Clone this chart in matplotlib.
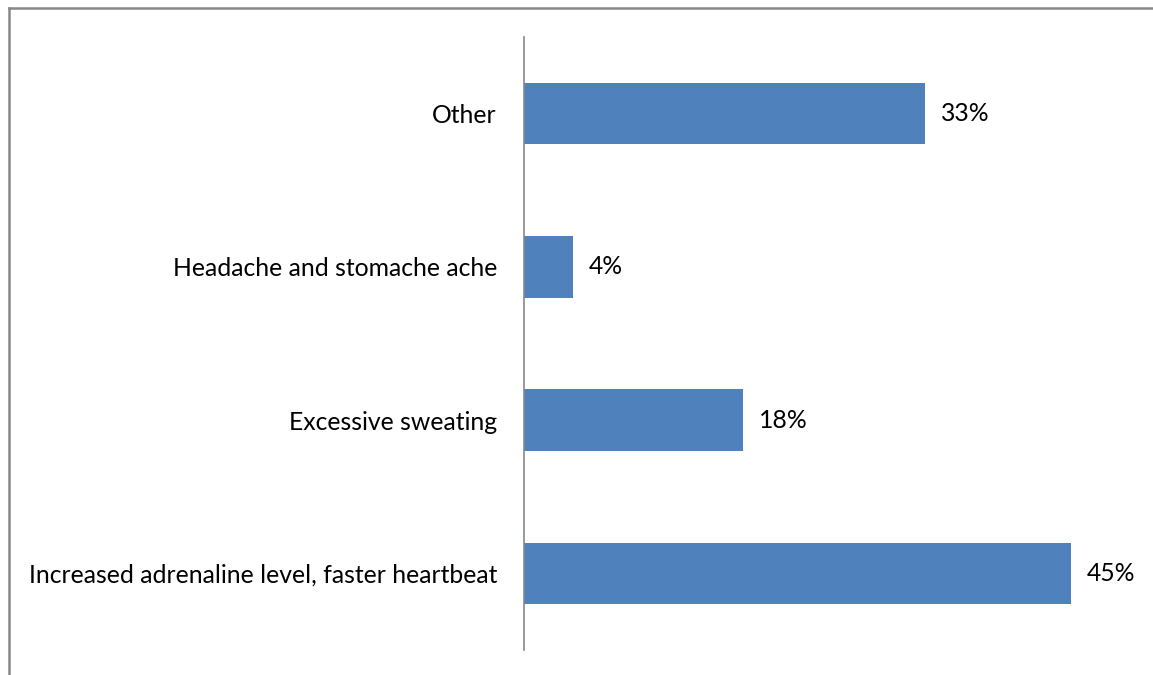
import matplotlib
matplotlib.use("agg")
import matplotlib.pyplot as plt
from matplotlib.lines import Line2D

categories = ["Increased adrenaline level, faster heartbeat", "Excessive sweating",
              "Headache and stomache ache", "Other"]
values = [45, 18, 4, 33]
value_labels = ["45%", "18%", "4%", "33%"]

BAR = "#4f81bd"
W, H = 1153, 675
FS = 17.8
plt.rcParams["font.family"] = ["Lato", "DejaVu Sans"]

fig = plt.figure(figsize=(W / 100, H / 100), dpi=100)
ax = fig.add_axes([524 / W, 25 / H, 608 / W, 613 / H])

y = range(len(categories))
ax.barh(list(y), values, height=0.4, color=BAR)
for i, (v, lab) in enumerate(zip(values, value_labels)):
    ax.annotate(lab, (v, i), xytext=(16, 0), textcoords="offset pixels",
                va="center", ha="left", fontsize=FS, color="#000")

ax.set_xlim(0, 50)
ax.set_ylim(-0.5, len(categories) - 0.5)
ax.set_yticks(list(y))
ax.set_yticklabels(categories, fontsize=FS)
ax.tick_params(axis="y", length=0, pad=19.5)
ax.set_xticks([])
for s in ["top", "right", "bottom"]:
    ax.spines[s].set_visible(False)
ax.spines["left"].set_color("#888888")
ax.spines["left"].set_linewidth(1.2)

# chart area border (left and top edges only)
fig.add_artist(Line2D([8.5 / W, 8.5 / W], [0, 1 - 7.5 / H], color="#888888", lw=1.8,
                      transform=fig.transFigure))
fig.add_artist(Line2D([8.5 / W, 1], [1 - 7.5 / H, 1 - 7.5 / H], color="#888888", lw=1.8,
                      transform=fig.transFigure))

fig.savefig("out.png", dpi=100)
